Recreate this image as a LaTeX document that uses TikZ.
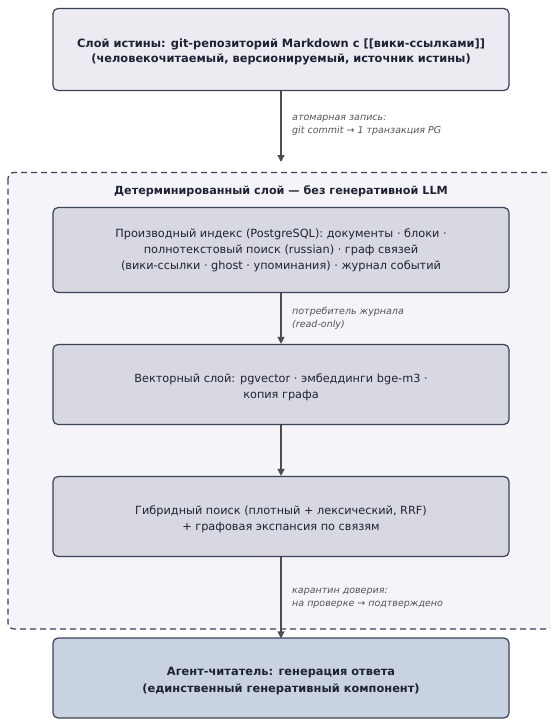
\documentclass[tikz,border=0pt]{standalone}
\usepackage{fontspec}
\setmainfont{DejaVu Sans}
\usetikzlibrary{arrows.meta,positioning}
\definecolor{edgecol}{HTML}{3B4255}
\definecolor{topfill}{HTML}{EBEBF1}
\definecolor{contfill}{HTML}{F4F4F9}
\definecolor{midfill}{HTML}{D8D8E2}
\definecolor{botfill}{HTML}{C8D2E0}
\definecolor{arrcol}{HTML}{4D4D4D}
\definecolor{labcol}{HTML}{555555}
\definecolor{txtcol}{HTML}{1E2233}
\tikzset{
  boxbase/.style={draw=edgecol, line width=1.2pt, rounded corners=5pt, inner sep=0pt, minimum width=456pt},
  topbox/.style={boxbase, fill=topfill},
  midbox/.style={boxbase, fill=midfill},
  botbox/.style={boxbase, fill=botfill},
  boxtext/.style={text=txtcol, align=center, inner sep=0pt, font=\fontsize{11.3}{16}\selectfont},
  boldtext/.style={boxtext, font=\bfseries\fontsize{11.4}{15}\selectfont},
  boldtextb/.style={boxtext, font=\bfseries\fontsize{11.4}{16.5}\selectfont},
  container/.style={draw=edgecol, line width=1.2pt, dash pattern=on 6pt off 4pt, rounded corners=6pt, fill=contfill},
  conn/.style={draw=arrcol, line width=1.3pt, -{Triangle[length=7pt,width=7pt]}},
  edgelabel/.style={text=labcol, font=\itshape\fontsize{9.5}{12.5}\selectfont, align=left, anchor=north west, inner sep=0pt},
  contitle/.style={text=txtcol, font=\bfseries\fontsize{11.2}{13}\selectfont, inner sep=0pt}
}
\begin{document}
\begin{tikzpicture}[x=1pt,y=-1pt]
\useasboundingbox (0,0) rectangle (550,720);
\clip (0,0) rectangle (550,720);
% container
\path[container] (8,172.5) rectangle (553,629);
\node[contitle] (ctitle) at (281,191) {Детерминированный слой — без генеративной LLM};
% boxes
\node[topbox, minimum height=82pt] (truth) at (281,49.5) {};
\node[boldtext] (truthtext) at ([yshift=-2.5pt]truth.center)
  {Слой истины: git-репозиторий Markdown с [[вики-ссылками]]\\(человекочитаемый, версионируемый, источник истины)};
\node[midbox, minimum height=85pt] (index) at (281,250) {};
\node[boxtext] (indextext) at ([yshift=-0.5pt]index.center)
  {Производный индекс (PostgreSQL): документы · блоки ·\\полнотекстовый поиск (russian) · граф связей\\(вики-ссылки · ghost · упоминания) · журнал событий};
\node[midbox, minimum height=80pt] (vector) at (281,384.5) {};
\node[boxtext] (vectortext) at ([yshift=-3pt]vector.center)
  {Векторный слой: pgvector · эмбеддинги bge-m3 ·\\копия графа};
\node[midbox, minimum height=80pt] (hybrid) at (281,516.5) {};
\node[boxtext] (hybridtext) at ([yshift=-3pt]hybrid.center)
  {Гибридный поиск (плотный + лексический, RRF)\\+ графовая экспансия по связям};
\node[botbox, minimum height=80pt] (agent) at (281,678) {};
\node[boldtextb] (agenttext) at ([yshift=-3pt]agent.center)
  {Агент-читатель: генерация ответа\\(единственный генеративный компонент)};
% connectors
\coordinate (cin) at (281,162);
\draw[conn] (truth.south) -- (cin);
\draw[conn] (index.south) -- (vector.north);
\draw[conn] (vector.south) -- (hybrid.north);
\draw[conn] (hybrid.south) -- ([yshift=-1pt]agent.north);
% labels
\node[edgelabel] (l1) at (292,115) {атомарная запись:\\git commit → 1 транзакция PG};
\node[edgelabel] (l2) at (292,307) {потребитель журнала\\(read-only)};
\node[edgelabel] (l3) at (292,588) {карантин доверия:\\на проверке → подтверждено};
\end{tikzpicture}
\end{document}
